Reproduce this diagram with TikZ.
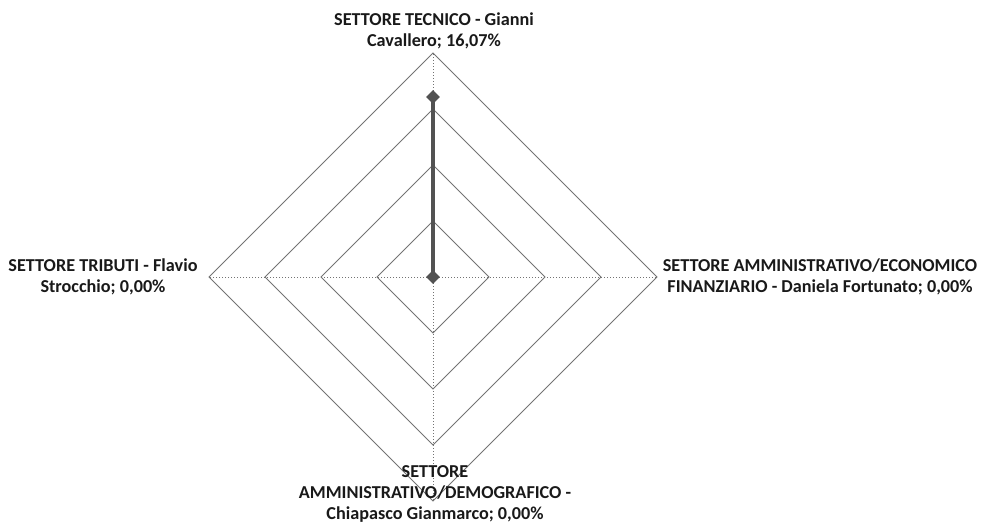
\documentclass[tikz,border=0pt]{standalone}
\usepackage{fontspec}
\setmainfont{Carlito}
\usetikzlibrary{shapes.geometric}

\begin{document}
\begin{tikzpicture}[x=1pt,y=-1pt,
		ring/.style={draw=black!55,line width=1pt},
		spoke/.style={draw=black!55,dotted,line width=1pt},
		serie/.style={draw=black!68,line width=3.8pt},
		dot/.style={diamond,fill=black!68,inner sep=0pt,minimum size=14pt},
		lab/.style={font=\fontsize{18.2}{21}\selectfont\bfseries,align=center,inner sep=0pt,text=black!90}]
		\useasboundingbox (0,0) rectangle (984,524);
		\coordinate (c) at (433,277);
		\coordinate (top) at (433,53);
		\coordinate (right) at (657,277);
		\coordinate (bottom) at (433,501);
		\coordinate (left) at (209,277);
		
		% grid
		\foreach \r in {56,112,168,224}
		\draw[ring] (433,277-\r) -- (433+\r,277) -- (433,277+\r) -- (433-\r,277) -- cycle;
		\foreach \v in {top,right,bottom,left}
		\draw[spoke] (c) -- (\v);
		
		% serie
		\coordinate (p1) at (433,97);
		\draw[serie] (c) -- (p1);
		\node[dot] (m1) at (p1) {};
		\node[dot] (m0) at (c) {};
		
		% labels
		\node[lab,anchor=north] (ltop) at (434,12.5) {SETTORE TECNICO - Gianni\\Cavallero; 16,07\%};
		\node[lab,anchor=north] (lleft) at (103,258.5) {SETTORE TRIBUTI - Flavio\\Strocchio; 0,00\%};
		\node[lab,anchor=north] (lright) at (820,258.5) {SETTORE AMMINISTRATIVO/ECONOMICO\\FINANZIARIO - Daniela Fortunato; 0,00\%};
		\node[lab,anchor=north] (lbottom) at (435,465) {SETTORE\\AMMINISTRATIVO/DEMOGRAFICO -\\Chiapasco Gianmarco; 0,00\%};
\end{tikzpicture}
\end{document}
